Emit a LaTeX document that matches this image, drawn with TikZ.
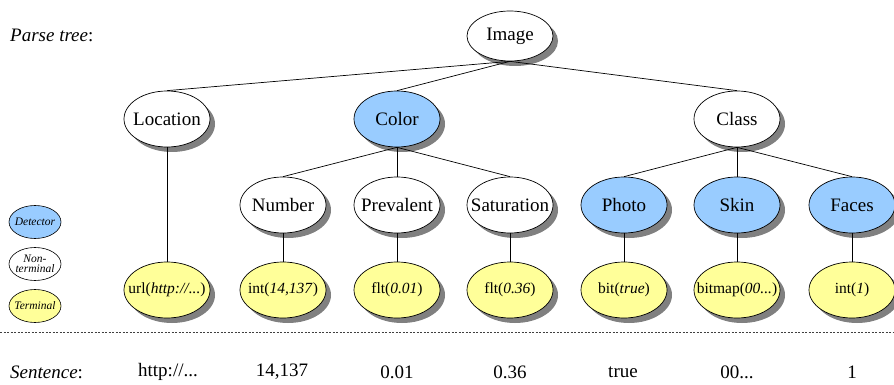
\documentclass[tikz,border=0pt]{standalone}
\usepackage{fontspec}
\setmainfont{Liberation Serif}
\usetikzlibrary{shapes.geometric,shadows}

\definecolor{detblue}{RGB}{153,204,255}
\definecolor{termyellow}{RGB}{255,255,153}
\definecolor{shadowgray}{RGB}{128,128,128}

\begin{document}
\begin{tikzpicture}[x=1pt,y=-1pt,
  treebox/.style={ellipse, draw=black, line width=0.7pt, inner sep=0pt,
    minimum width=86pt, minimum height=56pt,
    drop shadow={shadow xshift=5pt, shadow yshift=-5pt, fill=shadowgray, opacity=1}},
  nonterm/.style={treebox, fill=white},
  detector/.style={treebox, fill=detblue},
  terminal/.style={treebox, fill=termyellow},
  bigtxt/.style={font=\rmfamily\fontsize{19}{21}\selectfont, inner sep=0pt},
  smalltxt/.style={font=\rmfamily\fontsize{15.5}{17}\selectfont, inner sep=0pt},
  legendbox/.style={ellipse, draw=black, line width=0.6pt, inner sep=0pt,
    minimum width=52pt, minimum height=33pt},
  legendtxt/.style={font=\rmfamily\fontsize{11.5}{10.5}\selectfont\itshape, inner sep=0pt, align=center},
  branch/.style={draw=black, line width=0.7pt},
]
\useasboundingbox (0,0) rectangle (894,385);

% left captions
\node[bigtxt, anchor=west] (ptcap) at (10,35) {\textit{Parse tree}:};
\node[bigtxt, anchor=west] (sncap) at (10,372) {\textit{Sentence}:};

% root and first level
\node[nonterm, minimum height=50pt, label={[bigtxt]center:Image}] (image) at (510,36) {};
\node[nonterm, label={[bigtxt]center:Location}] (location) at (167,119) {};
\node[detector, label={[bigtxt]center:Color}] (color) at (397,119) {};
\node[nonterm, label={[bigtxt]center:Class}] (class) at (737,119) {};

% second level
\node[nonterm, label={[bigtxt]center:Number}] (number) at (283,205) {};
\node[nonterm, label={[bigtxt]center:Prevalent}] (prevalent) at (397,205) {};
\node[nonterm, label={[bigtxt]center:Saturation}] (saturation) at (510,205) {};
\node[detector, label={[bigtxt]center:Photo}] (photo) at (624,205) {};
\node[detector, label={[bigtxt]center:Skin}] (skin) at (737,205) {};
\node[detector, label={[bigtxt]center:Faces}] (faces) at (852,205) {};

% terminals
\node[terminal, label={[smalltxt]center:url(\textit{http://...})}] (turl) at (167,290) {};
\node[terminal, label={[smalltxt]center:int(\textit{14,137})}] (tnum) at (283,290) {};
\node[terminal, label={[smalltxt]center:flt(\textit{0.01})}] (tprev) at (397,290) {};
\node[terminal, label={[smalltxt]center:flt(\textit{0.36})}] (tsat) at (510,290) {};
\node[terminal, label={[smalltxt]center:bit(\textit{true})}] (tphoto) at (624,290) {};
\node[terminal, label={[smalltxt]center:bitmap(\textit{00...})}] (tskin) at (737,290) {};
\node[terminal, label={[smalltxt]center:int(\textit{1})}] (tfaces) at (852,290) {};

% branches
\foreach \c in {location,color,class}
  \draw[branch] (image.south) -- (\c.north);
\foreach \c in {number,prevalent,saturation}
  \draw[branch] (color.south) -- (\c.north);
\foreach \c in {photo,skin,faces}
  \draw[branch] (class.south) -- (\c.north);
\draw[branch] (location.south) -- (turl.north);
\draw[branch] (number.south) -- (tnum.north);
\draw[branch] (prevalent.south) -- (tprev.north);
\draw[branch] (saturation.south) -- (tsat.north);
\draw[branch] (photo.south) -- (tphoto.north);
\draw[branch] (skin.south) -- (tskin.north);
\draw[branch] (faces.south) -- (tfaces.north);

% legend
\node[legendbox, fill=detblue, label={[legendtxt]center:Detector}] (lgdet) at (35,222) {};
\node[legendbox, fill=white, label={[legendtxt]center:Non-\\terminal}] (lgnon) at (35,264) {};
\node[legendbox, fill=termyellow, label={[legendtxt]center:Terminal}] (lgterm) at (35,306) {};

% separator
\coordinate (sepL) at (0,332);
\coordinate (sepR) at (894,332);
\draw[black!75, line width=0.6pt, dash pattern=on 2pt off 1.5pt] (sepL) -- (sepR);

% sentence tokens
\node[bigtxt] (s1) at (168,372) {http://...};
\node[bigtxt] (s2) at (282,372) {14,137};
\node[bigtxt] (s3) at (397,372) {0.01};
\node[bigtxt] (s4) at (510,372) {0.36};
\node[bigtxt] (s5) at (623,372) {true};
\node[bigtxt] (s6) at (737,372) {00...};
\node[bigtxt] (s7) at (852,372) {1};
\end{tikzpicture}
\end{document}
